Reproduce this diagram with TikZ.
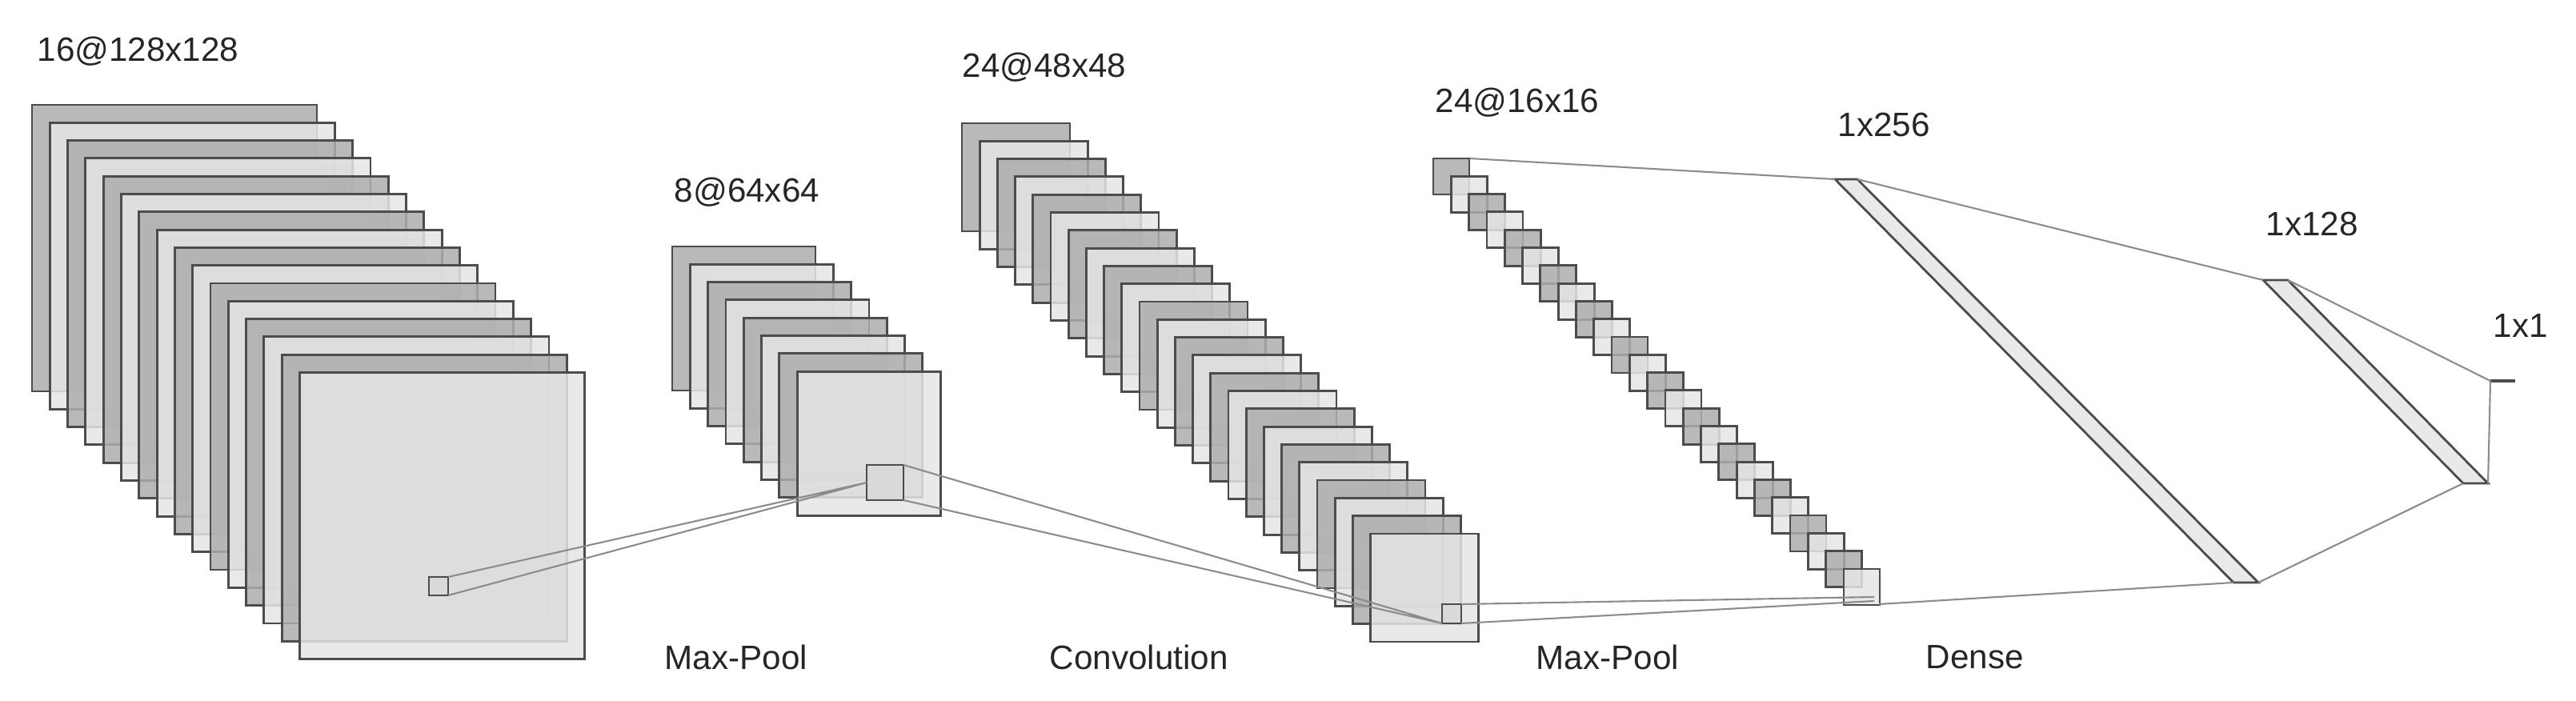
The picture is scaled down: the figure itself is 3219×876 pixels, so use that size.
\documentclass[tikz,border=0pt]{standalone}
\usepackage{fontspec}
\setmainfont{Liberation Sans}
\begin{document}
\begin{tikzpicture}[x=0.01cm,y=-0.01cm,
  fmap/.style={draw=black!70,line width=0.8pt,fill opacity=0.85},
  darkmap/.style={fmap,fill=black!32},
  lightmap/.style={fmap,fill=black!10},
  conn/.style={draw=black!45,line width=0.6pt},
  lbl/.style={font=\fontsize{12}{14}\selectfont,text=black!85,anchor=west,inner sep=0pt}]
\useasboundingbox (0,0) rectangle (3219,876);
% layer 1: 16 maps
\foreach \i in {0,...,15}{
  \pgfmathsetmacro{\xx}{40+22.3*\i}\pgfmathsetmacro{\yy}{131+22.3*\i}
  \pgfmathtruncatemacro{\odd}{mod(\i,2)}
  \ifnum\odd=0 \def\st{darkmap}\else\def\st{lightmap}\fi
  \draw[\st] (\xx,\yy) rectangle ++(356,358);}
% layer 2: 8 maps
\foreach \i in {0,...,7}{
  \pgfmathsetmacro{\xx}{840+22.3*\i}\pgfmathsetmacro{\yy}{308+22.3*\i}
  \pgfmathtruncatemacro{\odd}{mod(\i,2)}
  \ifnum\odd=0 \def\st{darkmap}\else\def\st{lightmap}\fi
  \draw[\st] (\xx,\yy) rectangle ++(179,180);}
% layer 3: 24 maps
\foreach \i in {0,...,23}{
  \pgfmathsetmacro{\xx}{1202+22.2*\i}\pgfmathsetmacro{\yy}{154+22.3*\i}
  \pgfmathtruncatemacro{\odd}{mod(\i,2)}
  \ifnum\odd=0 \def\st{darkmap}\else\def\st{lightmap}\fi
  \draw[\st] (\xx,\yy) rectangle ++(135,135);}
% layer 4: 24 maps
\foreach \i in {0,...,23}{
  \pgfmathsetmacro{\xx}{1791+22.3*\i}\pgfmathsetmacro{\yy}{198+22.3*\i}
  \pgfmathtruncatemacro{\odd}{mod(\i,2)}
  \ifnum\odd=0 \def\st{darkmap}\else\def\st{lightmap}\fi
  \draw[\st] (\xx,\yy) rectangle ++(45,45);}
% kernels
\draw[fmap,fill=black!15] (536,721) rectangle (560,744);
\draw[fmap,fill=black!15] (1083,581) rectangle (1129,625);
\draw[fmap,fill=black!15] (1802,755) rectangle (1826,779);
% named coordinates
\coordinate (k1a) at (560,721); \coordinate (k1b) at (560,744);
\coordinate (k2l) at (1083,603);
\coordinate (k2a) at (1129,581); \coordinate (k2b) at (1129,625);
\coordinate (k3l) at (1802,779);
\coordinate (k3a) at (1826,755); \coordinate (k3b) at (1826,779);
\coordinate (m4a) at (2342,746); \coordinate (m4b) at (2342,751);
\coordinate (m4t) at (1837,198); \coordinate (m4s) at (2348,755);
\coordinate (d1tl) at (2293,224); \coordinate (d1tr) at (2321,224);
\coordinate (d1br) at (2822,728); \coordinate (d1bl) at (2791,728);
\coordinate (d2tl) at (2828,350); \coordinate (d2tr) at (2859,350);
\coordinate (d2br) at (3109,604); \coordinate (d2bl) at (3078,604);
\coordinate (o1) at (3112,476); \coordinate (o2) at (3143,476);
% dense layers
\draw[fmap,fill=black!10] (d1tl) -- (d1tr) -- (d1br) -- (d1bl) -- cycle;
\draw[fmap,fill=black!10] (d2tl) -- (d2tr) -- (d2br) -- (d2bl) -- cycle;
\draw[draw=black!70,line width=1.2pt] (o1) -- (o2);
% connectors
\draw[conn] (k1a) -- (k2l) (k1b) -- (k2l);
\draw[conn] (k2a) -- (k3l) (k2b) -- (k3l);
\draw[conn] (k3a) -- (m4a) (k3b) -- (m4b);
\draw[conn] (m4t) -- (d1tl) (m4s) -- (d1bl);
\draw[conn] (d1tr) -- (d2tl) (d1br) -- (d2bl);
\draw[conn] (d2tr) -- (o1) (d2br) -- (o1);
% labels
\node[lbl] (l1) at (46,64) {16@128x128};
\node[lbl] (l2) at (842,240) {8@64x64};
\node[lbl] (l3) at (1202,84) {24@48x48};
\node[lbl] (l4) at (1793,128) {24@16x16};
\node[lbl] (l5) at (2296,156) {1x256};
\node[lbl] (l6) at (2831,280) {1x128};
\node[lbl] (l7) at (3115,407) {1x1};
\node[lbl] (b1) at (830,821) {Max-Pool};
\node[lbl] (b2) at (1311,821) {Convolution};
\node[lbl] (b3) at (1919,821) {Max-Pool};
\node[lbl] (b4) at (2406,821) {Dense};
\end{tikzpicture}
\end{document}
